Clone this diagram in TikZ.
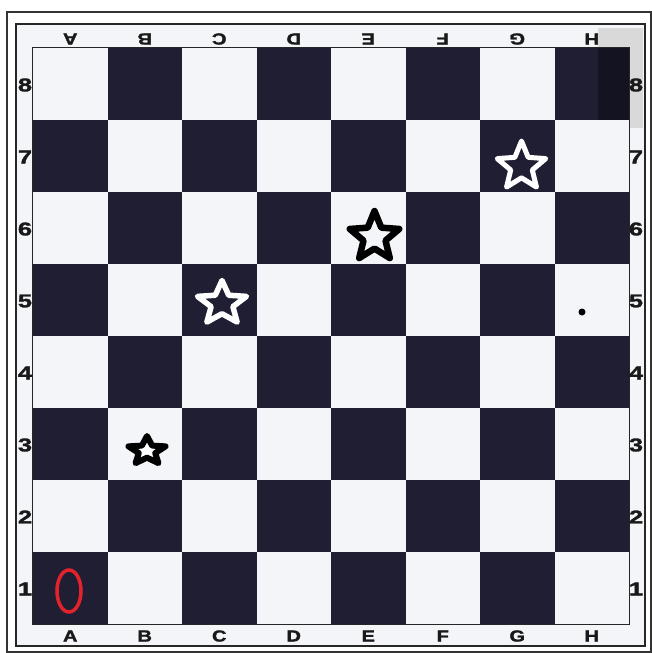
\documentclass[tikz,border=0pt]{standalone}
\usepackage{fontspec}
\newfontfamily\coordfont{Liberation Sans}[BoldFeatures={FakeBold=1.6}]
\usetikzlibrary{shapes.geometric, positioning}
\definecolor{boarddark}{HTML}{1F1E33}
\definecolor{boardlight}{HTML}{F3F5F9}
\definecolor{markred}{HTML}{E3232B}

\begin{document}
\begin{tikzpicture}[x=1pt, y=-1pt]
    \tikzstyle{square} = [rectangle, minimum width=74.5pt, minimum height=72pt, inner sep=0pt, draw=none]
    \tikzstyle{coord} = [font=\coordfont\bfseries\fontsize{16}{16}\selectfont, text=black!90, inner sep=0pt, xscale=1.25]
    \tikzstyle{rank} = [coord, font=\coordfont\bfseries\fontsize{18.5}{18.5}\selectfont, xscale=1.1]
    \tikzstyle{starmark} = [star, star points=5, star point ratio=2.25, inner sep=0pt, line join=round]

    \useasboundingbox (0,0) rectangle (652,653);
    \fill[white] (0,0) rectangle (652,653);
    \draw[line width=1.5pt, black!80] (7,12) rectangle (651,652);
    \fill[boardlight] (16,24) rectangle (645,646);
    \fill[black!15] (598,28) rectangle (643,128); % shadow
    \draw[line width=2pt, black!85] (16,24) rectangle (645,646);

    % board
    \foreach \f [count=\i] in {A,B,C,D,E,F,G,H} {
        \foreach \r in {1,...,8} {
            \ifodd\numexpr\i+\r\relax \def\sqfill{boardlight}\else \def\sqfill{boarddark}\fi
            \node (sq-\f\r) [square, fill=\sqfill] at ({-4.25+74.5*\i}, {660-72*\r}) {};
        }
    }
    \fill[black, opacity=0.35] (598,48) rectangle (sq-H8.south east);
    \draw[black!85, line width=0.8pt] (sq-A8.north west) rectangle (sq-H1.south east);

    % coordinates
    \foreach \f [count=\i] in {A,B,C,D,E,F,G,H} {
        \node (top-\f) [coord, rotate=180] at ({-4.25+74.5*\i}, 39) {\f};
        \node (bot-\f) [coord] at ({-4.25+74.5*\i}, 636) {\f};
    }
    \foreach \r in {1,...,8} {
        \node (left-\r) [rank] at (25, {661-72*\r}) {\r};
        \node (right-\r) [rank] at (636, {661-72*\r}) {\r};
    }

    % marks
    \node (ring-A1) [ellipse, draw=markred, line width=3.5pt, minimum width=24pt, minimum height=42pt, inner sep=0pt] at (69,591) {};
    \node (star-B3) [starmark, draw=black, fill=white, line width=6pt, minimum size=30pt, xscale=1.3] at (147,451) {};
    \node (star-C5) [starmark, draw=white, line width=5.5pt, minimum size=46pt, xscale=1.12] at (222,303.5) {};
    \node (star-E6) [starmark, draw=black, line width=6.5pt, minimum size=52pt] at (374.5,237) {};
    \node (star-G7) [starmark, draw=white, line width=5pt, minimum size=51pt] at (521.5,166.5) {};
    \node (dot-H5) [circle, fill=black, minimum size=7pt, inner sep=0pt] at (582,312) {};
\end{tikzpicture}
\end{document}
